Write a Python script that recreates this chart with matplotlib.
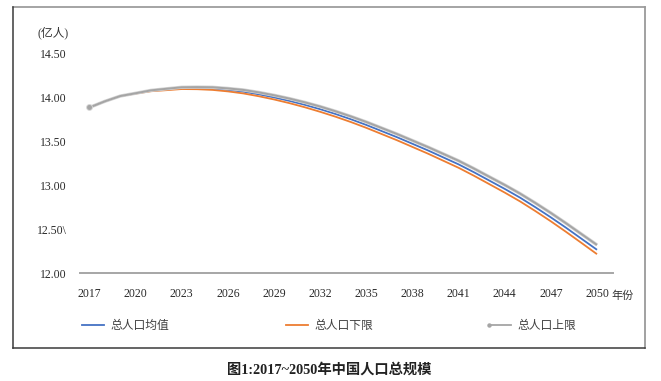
import matplotlib
matplotlib.use("Agg")
import matplotlib.pyplot as plt
from matplotlib.lines import Line2D
from matplotlib.legend_handler import HandlerLine2D
import matplotlib.patheffects as pe

years = [2017, 2018, 2019, 2020, 2021, 2022, 2023, 2024, 2025, 2026, 2027, 2028,
         2029, 2030, 2031, 2032, 2033, 2034, 2035, 2036, 2037, 2038, 2039, 2040,
         2041, 2042, 2043, 2044, 2045, 2046, 2047, 2048, 2049, 2050]

pop_mean = [13.89, 13.96, 14.02, 14.05, 14.08, 14.095, 14.11, 14.11, 14.105, 14.09,
            14.07, 14.04, 14.005, 13.965, 13.92, 13.87, 13.815, 13.755, 13.69, 13.62,
            13.55, 13.475, 13.40, 13.32, 13.24, 13.15, 13.055, 12.96, 12.86, 12.75,
            12.635, 12.515, 12.39, 12.265]
pop_lower = [13.89, 13.96, 14.02, 14.048, 14.075, 14.087, 14.10, 14.098, 14.09, 14.073,
             14.05, 14.018, 13.981, 13.939, 13.892, 13.84, 13.784, 13.723, 13.657, 13.586,
             13.515, 13.439, 13.363, 13.282, 13.201, 13.11, 13.014, 12.918, 12.817, 12.706,
             12.59, 12.468, 12.342, 12.215]
pop_upper = [13.89, 13.96, 14.02, 14.052, 14.085, 14.103, 14.12, 14.122, 14.12, 14.107,
             14.09, 14.062, 14.029, 13.991, 13.948, 13.90, 13.846, 13.787, 13.724, 13.655,
             13.586, 13.512, 13.438, 13.36, 13.281, 13.192, 13.098, 13.005, 12.906, 12.798,
             12.685, 12.566, 12.443, 12.32]

x_ticks = [2017, 2020, 2023, 2026, 2029, 2032, 2035, 2038, 2041, 2044, 2047, 2050]
y_ticks = [12.00, 12.50, 13.00, 13.50, 14.00, 14.50]
y_tick_labels = ["12.00", "12.50\\", "13.00", "13.50", "14.00", "14.50"]
series_names = ["总人口均值", "总人口下限", "总人口上限"]
unit_label = "(亿人)"
x_unit_label = "年份"
caption = "图1:2017~2050年中国人口总规模"

FAM = ["Liberation Serif", "Noto Sans CJK SC"]
plt.rcParams["font.family"] = FAM

W, H = 661, 381
fig = plt.figure(figsize=(W / 100, H / 100), dpi=100)

def fx(px):
    return px / W

def fy(py):
    return 1 - py / H

ax = fig.add_axes([fx(80), fy(273), (613 - 80) / W, (273 - 54) / H])

c_mean = "#4472C4"
c_low = "#ED7D31"
c_up = "#A5A5A5"

ax.plot(years, pop_mean, color=c_mean, lw=1.3, solid_capstyle="butt")
ax.plot(years, pop_lower, color=c_low, lw=1.3, solid_capstyle="butt")
ax.plot(years, pop_upper, color=c_up, lw=1.4, marker="o", markersize=2.5,
        markevery=[0], solid_capstyle="butt",
        path_effects=[pe.Stroke(linewidth=2.4, foreground="#d4d4d4"), pe.Normal()])

ax.set_xlim(2016.38, 2051.04)
ax.set_ylim(12.0, 14.5)
ax.set_xticks(x_ticks)
ax.set_xticklabels([str(v) for v in x_ticks])
ax.set_yticks(y_ticks)
ax.set_yticklabels(y_tick_labels)
ax.tick_params(axis="both", length=0, labelsize=8.5, colors="#2a2a2a")
ax.tick_params(axis="y", pad=9.4)
ax.tick_params(axis="x", pad=11)
for s in ["top", "right", "left"]:
    ax.spines[s].set_visible(False)
ax.spines["bottom"].set_color("#A6A6A6")
ax.spines["bottom"].set_linewidth(1.4)
ax.set_facecolor("none")

fig.text(fx(37), fy(33), unit_label, fontsize=8.5, color="#333333",
         ha="left", va="center", family=FAM)
fig.text(fx(611), fy(296), x_unit_label, fontsize=8, color="#333333",
         ha="left", va="center", family=FAM)

class LeftMarkerHandler(HandlerLine2D):
    def create_artists(self, legend, orig_handle, xdescent, ydescent, width,
                       height, fontsize, trans):
        arts = super().create_artists(legend, orig_handle, xdescent, ydescent,
                                      width, height, fontsize, trans)
        for a in arts:
            if isinstance(a, Line2D) and a.get_marker() not in (None, "None", ""):
                a.set_markevery([0])
        return arts

handles = [
    Line2D([], [], color=c_mean, lw=1.3),
    Line2D([], [], color=c_low, lw=1.3),
    Line2D([], [], color=c_up, lw=1.3, marker="o", markersize=2.2),
]
leg_x = [82, 286, 489]
for h, name, lx in zip(handles, series_names, leg_x):
    lg = fig.legend([h], [name], loc="center left",
                    bbox_to_anchor=(fx(lx), fy(326)), frameon=False,
                    borderpad=0, borderaxespad=0, handlelength=1.9,
                    handletextpad=0.55, fontsize=8.5, numpoints=1,
                    handler_map={Line2D: LeftMarkerHandler()})
    for t in lg.get_texts():
        t.set_color("#404040")

# outer frame
fr_l, fr_t, fr_r, fr_b = 13, 7, 645, 348
fig.add_artist(Line2D([fx(fr_l), fx(fr_r)], [fy(fr_t), fy(fr_t)], color="#8c8c8c", lw=1.1))
fig.add_artist(Line2D([fx(fr_r), fx(fr_r)], [fy(fr_t), fy(fr_b)], color="#9a9a9a", lw=1.3))
fig.add_artist(Line2D([fx(fr_l), fx(fr_l)], [fy(fr_t), fy(fr_b)], color="#3a3a3a", lw=1.1))
fig.add_artist(Line2D([fx(fr_l), fx(fr_r)], [fy(fr_b), fy(fr_b)], color="#3a3a3a", lw=1.1))

fig.text(fx(329), fy(370), caption, fontsize=10.3, fontweight="bold",
         color="#222222", ha="center", va="center", family=FAM)

fig.savefig("out.png", dpi=100)
